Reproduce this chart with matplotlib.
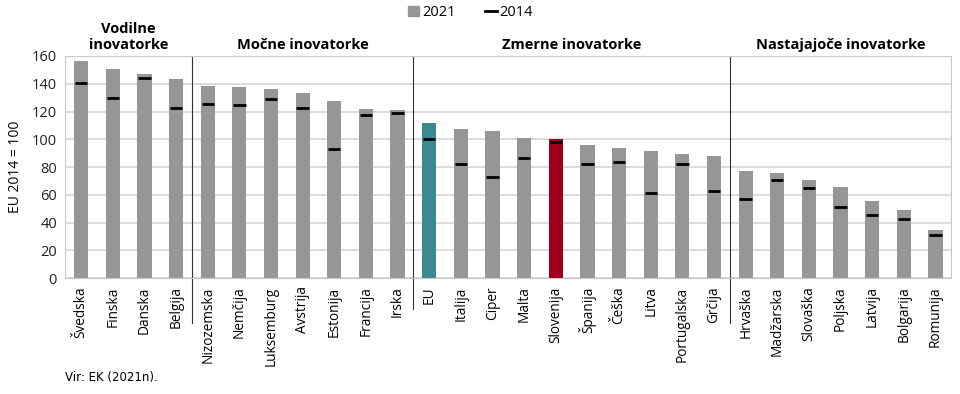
import numpy as np
import matplotlib.pyplot as plt
from matplotlib.lines import Line2D
from matplotlib.patches import Patch

countries = ["Švedska", "Finska", "Danska", "Belgija",
             "Nizozemska", "Nemčija", "Luksemburg", "Avstrija", "Estonija", "Francija", "Irska",
             "EU", "Italija", "Ciper", "Malta", "Slovenija", "Španija", "Češka", "Litva",
             "Portugalska", "Grčija",
             "Hrvaška", "Madžarska", "Slovaška", "Poljska", "Latvija", "Bolgarija", "Romunija"]
v2021 = [156.2, 150.6, 147.0, 143.2,
         138.2, 137.7, 136.0, 133.1, 127.8, 121.9, 120.9,
         112.0, 107.7, 106.0, 101.2, 100.0, 95.7, 94.0, 91.9, 89.7, 88.0,
         77.5, 76.0, 70.5, 65.5, 55.2, 49.2, 34.5]
v2014 = [140.3, 129.8, 144.2, 122.8,
         125.5, 124.7, 128.8, 122.8, 92.8, 117.3, 119.0,
         100.5, 82.0, 73.1, 86.8, 97.8, 82.5, 83.5, 61.2, 82.5, 62.8,
         56.9, 70.5, 65.0, 51.3, 45.3, 42.7, 31.2]
groups = ["Vodilne\ninovatorke", "Močne inovatorke", "Zmerne inovatorke", "Nastajajoče inovatorke"]
group_sizes = [4, 7, 10, 7]

plt.rcParams['font.family'] = ['Open Sans', 'DejaVu Sans']

fig = plt.figure(figsize=(9.6, 3.94), dpi=100)
ax = fig.add_axes([0.068, 0.294, 0.923, 0.564])

x = np.arange(len(countries))
colors = ["#969696"] * len(countries)
colors[countries.index("EU")] = "#3a8a8f"
colors[countries.index("Slovenija")] = "#a0001e"

ax.set_axisbelow(True)
ax.grid(axis="y", color="#d6d6d6", linewidth=1.2)
ax.bar(x, v2021, width=0.45, color=colors, zorder=2)
ax.hlines(v2014, x - 0.195, x + 0.195, color="black", linewidth=2, zorder=3)

ax.set_xlim(-0.5, len(countries) - 0.5)
ax.set_ylim(0, 160)
ax.set_yticks(np.arange(0, 161, 20))
ax.tick_params(axis="y", length=0, labelsize=10.5, colors="#222222", pad=6)
ax.tick_params(axis="x", length=0, pad=6)
ax.set_xticks(x)
ax.set_xticklabels(countries, rotation=90, fontsize=9.8, va="top")
ax.set_ylabel("EU 2014 = 100", fontsize=10, labelpad=6)
for s in ax.spines.values():
    s.set_color("#c8c8c8")

# group dividers and titles
start = 0
for i, (g, n) in enumerate(zip(groups, group_sizes)):
    center = start + (n - 1) / 2
    ax.text(center, 163, g, ha="center", va="bottom", fontsize=10.5,
            fontweight="bold", linespacing=1.2)
    if i < len(groups) - 1:
        xd = start + n - 0.5
        low = -0.14 if i == 1 else -0.2
        ax.add_line(Line2D([xd, xd], [low, 1], transform=ax.get_xaxis_transform(),
                           color="#333333", linewidth=0.8, clip_on=False))
    start += n

handles = [Patch(color="#969696"), Line2D([], [], color="black", linewidth=2)]
fig.legend(handles, ["2021", "2014"], loc="upper center", bbox_to_anchor=(0.49, 1.02),
           ncol=2, frameon=False, fontsize=10.5, handlelength=0.8, handletextpad=0.2,
           columnspacing=2.0)

fig.text(0.068, 0.033, "Vir: EK (2021n).", fontsize=8.5, family="Liberation Sans Narrow")

fig.savefig("out.png", dpi=100)
